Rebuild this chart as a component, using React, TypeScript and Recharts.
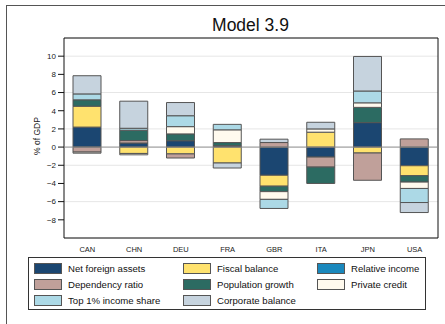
import { BarChart, Bar, XAxis, YAxis, CartesianGrid, ReferenceLine, ReferenceArea } from "recharts";

const categories = ["CAN", "CHN", "DEU", "FRA", "GBR", "ITA", "JPN", "USA"];

const netForeignAssets = [2.2, 0.45, 0.7, 0.15, -3.1, -1.1, 2.69, -2.05];
const fiscalBalance = [2.3, -0.7, -0.75, -1.75, -1.2, 1.64, -0.65, -1.1];
const relativeIncome = [0, 0, 0, 0, 0, 0, 0, 0];
const dependencyRatio = [-0.55, 0.27, -0.45, 0, 0.5, -1.1, -3.0, 0.9];
const populationGrowth = [0.7, 1.13, 0.75, 0.35, -0.6, -1.8, 1.68, -0.7];
const privateCredit = [-0.12, -0.15, 0.8, 1.4, -0.85, 0.36, 0.5, -0.7];
const top1IncomeShare = [0.65, 0.22, 1.2, 0.6, -1.0, 0, 1.3, -1.55];
const corporateBalance = [2.0, 2.98, 1.45, -0.55, 0.37, 0.73, 3.8, -1.1];

const yTicks = [-8, -6, -4, -2, 0, 2, 4, 6, 8, 10];

const series = [
  { key: "nfa", name: "Net foreign assets", values: netForeignAssets, color: "#1b4671" },
  { key: "fiscal", name: "Fiscal balance", values: fiscalBalance, color: "#ffe26e" },
  { key: "relinc", name: "Relative income", values: relativeIncome, color: "#1a88bd" },
  { key: "dep", name: "Dependency ratio", values: dependencyRatio, color: "#c0a09a" },
  { key: "pop", name: "Population growth", values: populationGrowth, color: "#2c6b62" },
  { key: "credit", name: "Private credit", values: privateCredit, color: "#fffaee" },
  { key: "top1", name: "Top 1% income share", values: top1IncomeShare, color: "#acd9e6" },
  { key: "corp", name: "Corporate balance", values: corporateBalance, color: "#c6d3de" },
];

const data = categories.map((c, i) => {
  const row: Record<string, string | number> = { country: c };
  series.forEach((s) => {
    row[s.key] = s.values[i];
  });
  return row;
});

const font = "'Liberation Sans', Arial, Helvetica, sans-serif";

function Legend() {
  // Stata fills the legend by rows, three columns
  return (
    <div
      style={{
        position: "absolute", left: 28, top: 257, width: 398, height: 53,
        border: "1px solid #333", boxSizing: "border-box", background: "#fff",
        display: "grid", gridTemplateColumns: "149px 134px auto",
        gridAutoRows: "15.8px", padding: "5px 0 0 5px", fontFamily: font, fontSize: 9.6, color: "#111",
      }}
    >
      {series.map((s) => (
        <div key={s.key} style={{ display: "flex", alignItems: "center", height: 11 }}>
          <span
            style={{
              width: 28, height: 11, background: s.color, border: "1px solid #555",
              boxSizing: "border-box", marginRight: 6, flex: "none",
            }}
          />
          <span style={{ whiteSpace: "nowrap" }}>{s.name}</span>
        </div>
      ))}
    </div>
  );
}

export default function App() {
  return (
    <div style={{ position: "absolute", left: 0, top: 0, width: 445, height: 324, overflow: "hidden", background: "#fff" }}>
      <div style={{ position: "absolute", left: 6, top: 5, width: 460, height: 340, border: "1px solid #555" }} />
      <div
        style={{
          position: "absolute", left: 150, width: 201, top: 15, textAlign: "center",
          fontFamily: font, fontSize: 17.5, color: "#111",
        }}
      >
        Model 3.9
      </div>
      <div style={{ position: "absolute", left: 0, top: 0 }}>
        <BarChart
          width={445}
          height={324}
          data={data}
          stackOffset="sign"
          margin={{ top: 38, right: 7, bottom: 66, left: 24 }}
          barSize={28}
        >
          <CartesianGrid horizontal vertical={false} stroke="#e6e6e6" strokeWidth={1} />
          <XAxis
            dataKey="country"
            axisLine={false}
            tickLine={false}
            height={20}
            tick={{ fontSize: 7.5, fill: "#222", fontFamily: font }}
            tickMargin={3}
          />
          <YAxis
            type="number"
            domain={[-10, 12]}
            ticks={yTicks}
            width={40}
            axisLine={false}
            tickSize={6}
            tickMargin={2}
            tickLine={{ stroke: "#111" }}
            tickFormatter={(v: number) => String(v).replace("-", "\u2212")}
            tick={{ fontSize: 8, fill: "#222", fontFamily: font }}
            label={{
              content: () => (
                <text
                  x={37}
                  y={136}
                  transform="rotate(-90 37 136)"
                  textAnchor="middle"
                  dominantBaseline="central"
                  fontSize={8.5}
                  fontFamily={font}
                  fill="#222"
                >
                  % of GDP
                </text>
              ),
            }}
          />
          {series.map((s) => (
            <Bar
              key={s.key}
              dataKey={s.key}
              name={s.name}
              stackId="a"
              fill={s.color}
              stroke="#555"
              strokeWidth={1}
              isAnimationActive={false}
            />
          ))}
          <ReferenceLine y={0} stroke="#888" strokeWidth={1} />
          <ReferenceArea y1={-10} y2={12} fill="none" stroke="#111" strokeWidth={1} ifOverflow="visible" />
        </BarChart>
      </div>
      <Legend />
    </div>
  );
}
